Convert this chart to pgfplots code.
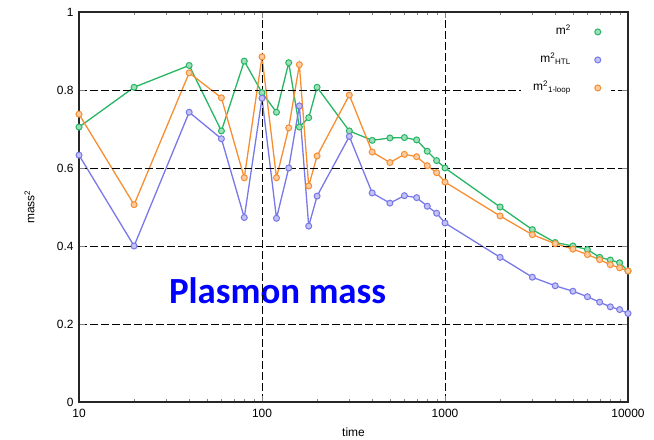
\documentclass[border=0pt]{standalone}
\usepackage{fontspec}
\setmainfont{Liberation Sans}
\newfontfamily\carlito{Carlito}
\usepackage{pgfplots}
\pgfplotsset{compat=1.18}
\definecolor{mgreen}{RGB}{40,182,100}
\definecolor{mblue}{RGB}{120,120,232}
\definecolor{morange}{RGB}{246,142,50}

\pgfplotstableread{
t     m2     htl    oneloop
10    0.705  0.633  0.738
20    0.807  0.400  0.506
40    0.863  0.743  0.844
60    0.695  0.675  0.780
80    0.874  0.473  0.575
100   0.793  0.779  0.885
120   0.743  0.471  0.575
140   0.870  0.600  0.703
160   0.705  0.759  0.865
180   0.729  0.451  0.554
200   0.807  0.528  0.631
300   0.695  0.681  0.787
400   0.671  0.536  0.641
500   0.677  0.510  0.614
600   0.678  0.529  0.635
700   0.672  0.524  0.629
800   0.643  0.502  0.606
900   0.619  0.484  0.588
1000  0.600  0.459  0.564
2000  0.500  0.371  0.477
3000  0.442  0.320  0.429
4000  0.409  0.298  0.406
5000  0.400  0.284  0.392
6000  0.391  0.270  0.378
7000  0.371  0.256  0.365
8000  0.364  0.244  0.352
9000  0.357  0.237  0.344
10000 0.336  0.227  0.336
}\masses

\begin{document}
\begin{tikzpicture}
\begin{axis}[
  scale only axis, width=549bp, height=390bp,
  xmode=log, xmin=10, xmax=10000, ymin=0, ymax=1,
  xtick={10,100,1000,10000}, xticklabels={10,100,1000,10000},
  ytick={0,0.2,0.4,0.6,0.8,1},
  /pgf/number format/assume math mode=true,
  tick label style={font=\fontsize{12}{14}\selectfont},
  xticklabel style={yshift=-4bp},
  yticklabel style={xshift=-2bp},
  label style={font=\fontsize{12}{14}\selectfont},
  xlabel={time}, ylabel={mass\textsuperscript{2}},
  xlabel style={at={(axis description cs:0.5,-0.077)}, anchor=center},
  ylabel style={at={(axis description cs:-0.09,0.5)}, anchor=center},
  tick align=inside, major tick length=6bp, minor tick length=3bp,
  axis line style={line width=1.1bp, black!85},
  grid=major, major grid style={black, line width=0.9bp, dash pattern=on 8bp off 3bp},
  axis on top,
  legend plot pos=right,
  legend image code/.code={\draw[#1, only marks] plot coordinates {(0.3cm,0cm)};},
  legend style={at={(axis description cs:0.969,0.975)}, anchor=north east,
    fill=white, draw=none, font=\fontsize{12}{14}\selectfont,
    inner xsep=10bp, inner ysep=1bp, row sep=10bp, column sep=22bp,
    cells={anchor=east}, nodes={inner sep=2bp, text height=10bp, text depth=4bp}},
  every axis plot/.append style={line width=1.3bp, mark=*, mark size=3bp},
]
\addplot[mgreen, mark options={fill=mgreen!45, draw=mgreen, line width=1bp}] table[x=t, y=m2] {\masses};
\addplot[mblue, mark options={fill=mblue!45, draw=mblue, line width=1bp}] table[x=t, y=htl] {\masses};
\addplot[morange, mark options={fill=morange!45, draw=morange, line width=1bp}] table[x=t, y=oneloop] {\masses};
\legend{m\textsuperscript{2}, m\textsuperscript{2}\textsubscript{HTL}, m\textsuperscript{2}\textsubscript{1-loop}}
\node[anchor=base, text=blue, font=\carlito\bfseries\fontsize{37}{40}\selectfont, inner sep=0pt] at (axis cs:121.6,0.253) {Plasmon mass};
\end{axis}
\pgfresetboundingbox
\path ([shift={(-79bp,-37.3bp)}]current axis.south west) rectangle ([shift={(26bp,12bp)}]current axis.north east);
\end{tikzpicture}
\end{document}
